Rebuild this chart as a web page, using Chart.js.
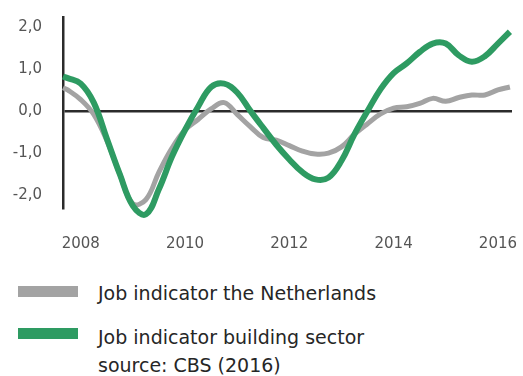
<!DOCTYPE html>
<html>
<head>
<meta charset="utf-8">
<script src="https://cdn.jsdelivr.net/npm/chart.js@4/dist/chart.umd.min.js"></script>
<style>
  body { margin: 0; background: #fff; font-family: "DejaVu Sans", sans-serif; }
  #wrap { position: relative; width: 523px; height: 376px; }
  #box { position: absolute; left: 0; top: 0; width: 523px; height: 265px; }
  .sw { position: absolute; left: 18px; width: 60px; height: 11px; }
  .lab { position: absolute; left: 98px; font-size: 19px; line-height: 28px; color: #262626; white-space: nowrap; }
</style>
</head>
<body>
<div id="wrap">
  <div id="box"><canvas id="chart-jobs" width="523" height="265"></canvas></div>
  <div class="sw" style="top:286px;background:#a3a3a3"></div>
  <div class="lab" style="top:279px">Job indicator the Netherlands</div>
  <div class="sw" style="top:328px;background:#2e9b62"></div>
  <div class="lab" style="top:323px">Job indicator building sector<br>source: CBS (2016)</div>
</div>
<script>
// quarterly readings, x in decimal years
const years = [2007.66, 2007.75, 2008.0, 2008.25, 2008.5, 2008.75, 2009.0, 2009.25, 2009.5, 2009.75,
  2010.0, 2010.25, 2010.5, 2010.75, 2011.0, 2011.25, 2011.5, 2011.75, 2012.0, 2012.25,
  2012.5, 2012.75, 2013.0, 2013.25, 2013.5, 2013.75, 2014.0, 2014.25, 2014.5, 2014.75,
  2015.0, 2015.25, 2015.5, 2015.75, 2016.0, 2016.23];
const nlValues = [0.55, 0.5, 0.27, -0.08, -0.7, -1.5, -2.2, -2.1, -1.45, -0.88,
  -0.45, -0.2, 0.05, 0.2, -0.08, -0.37, -0.63, -0.69, -0.82, -0.95,
  -1.02, -1.0, -0.85, -0.55, -0.3, -0.07, 0.07, 0.1, 0.18, 0.3,
  0.23, 0.32, 0.38, 0.38, 0.5, 0.57];
const buildValues = [0.82, 0.78, 0.65, 0.2, -0.65, -1.5, -2.25, -2.45, -1.85, -1.08,
  -0.45, 0.1, 0.57, 0.65, 0.44, 0.01, -0.4, -0.8, -1.15, -1.45,
  -1.62, -1.58, -1.18, -0.55, 0.0, 0.52, 0.9, 1.13, 1.4, 1.6,
  1.6, 1.32, 1.17, 1.3, 1.6, 1.88];
const xTicks = [2008, 2010, 2012, 2014, 2016];
const yTicks = [-2, -1, 0, 1, 2];

const toPts = vals => vals.map((v, i) => ({ x: years[i], y: v }));
const tickFont = { family: 'DejaVu Sans', size: 15 };
const noPad = s => { s.paddingLeft = 0; s.paddingRight = 0; s.paddingTop = 0; s.paddingBottom = 0; };

new Chart(document.getElementById('chart-jobs'), {
  type: 'line',
  data: {
    datasets: [{
      label: 'Job indicator building sector',
      data: toPts(buildValues),
      borderColor: '#2e9b62',
      borderWidth: 6,
      tension: 0.4,
      pointRadius: 0,
      clip: false,
      order: 0
    }, {
      label: 'Job indicator the Netherlands',
      data: toPts(nlValues),
      borderColor: '#a3a3a3',
      borderWidth: 5,
      tension: 0.4,
      pointRadius: 0,
      clip: false,
      order: 1
    }]
  },
  options: {
    responsive: false, animation: false,
    layout: { padding: { left: 0, top: 17, right: 11, bottom: 0 } },
    plugins: { legend: { display: false }, tooltip: { enabled: false } },
    scales: {
      x: {
        type: 'linear', min: 2007.66, max: 2016.27,
        afterBuildTicks: s => { s.ticks = xTicks.map(v => ({ value: v })); },
        afterFit: s => { s.height = 57; noPad(s); },
        grid: { display: false, drawTicks: false },
        border: { display: false },
        ticks: { color: '#555', font: tickFont, padding: 27, maxRotation: 0, autoSkip: false,
          callback: v => String(v) }
      },
      y: {
        min: -2.3, max: 2.23,
        afterBuildTicks: s => { s.ticks = yTicks.map(v => ({ value: v })); },
        afterFit: s => { s.width = 63; noPad(s); },
        grid: { drawTicks: false, lineWidth: 2.5,
          color: c => c.tick && c.tick.value === 0 ? '#2b2b2b' : 'rgba(0,0,0,0)' },
        border: { display: true, color: '#2b2b2b', width: 2.5 },
        ticks: { color: '#555', font: tickFont, padding: 21,
          callback: v => v.toFixed(1).replace('.', ',') }
      }
    }
  }
});
</script>
</body>
</html>
